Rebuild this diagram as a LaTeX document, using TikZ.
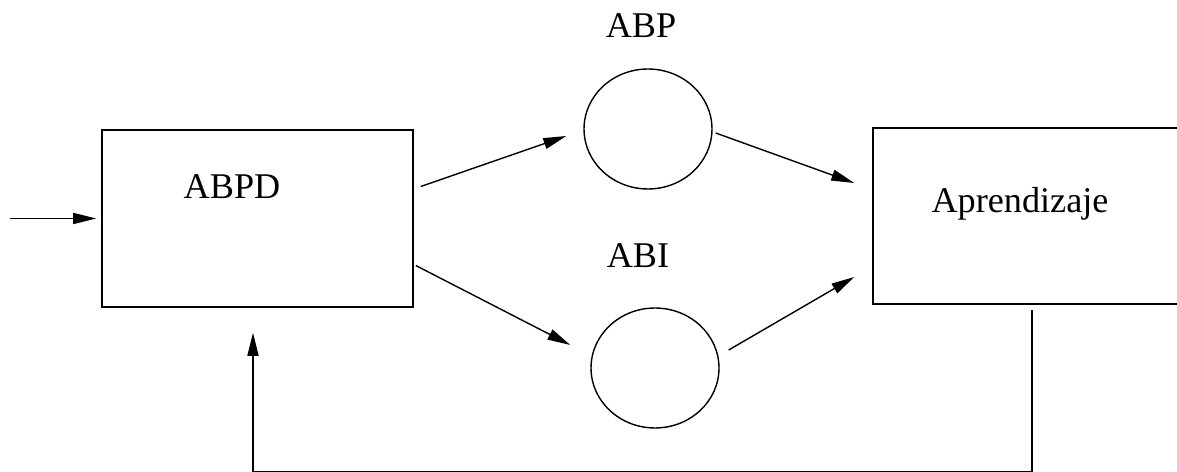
\documentclass[tikz,border=0pt]{standalone}
\usepackage{fontspec}
\setmainfont{Liberation Serif}
\usetikzlibrary{arrows.meta, positioning, calc, shapes.geometric}

\begin{document}
\begin{tikzpicture}[
  x=0.02cm, y=-0.02cm,
  block/.style={rectangle,draw,line width=0.9pt,minimum width=6.22cm,minimum height=3.54cm,inner sep=0pt},
  unit/.style={ellipse,draw,line width=0.8pt,minimum width=2.56cm,minimum height=2.4cm,inner sep=0pt},
  lbl/.style={font=\fontsize{20.6}{24}\selectfont,inner sep=0pt,anchor=base},
  arr/.style={-{Triangle[length=0.46cm,width=0.22cm]},line width=0.8pt}
]
  \useasboundingbox (0,0) rectangle (1177,472);
  \clip (0,0) rectangle (1177,472);
  \fill[white] (0,0) rectangle (1177,472);

  % blocks and units
  \node[block] (abpd) at (257.5,218.5) {};
  \node[block,minimum width=6.36cm,minimum height=3.52cm] (aprend) at (1032,216) {};
  \node[unit] (abp) at (648,129) {};
  \node[unit] (abi) at (655,368) {};

  % texts
  \node[lbl] (abpdtxt) at (232,199) {ABPD};
  \node[lbl] (aprendtxt) at (1020,213) {Aprendizaje};
  \node[lbl] (abptxt) at (641,38) {ABP};
  \node[lbl] (abitxt) at (638,268) {ABI};

  % input
  \coordinate (start) at (10,218.5);
  \draw[arr,shorten >=0.1cm] (start) -- (abpd.west);

  % forward paths
  \draw[arr] ([shift={(7,-32)}]abpd.east) -- ([shift={(-17,7)}]abp.west);
  \draw[arr] ([shift={(2,47)}]abpd.east) -- ([shift={(-20,-23)}]abi.west);
  \draw[arr] ([shift={(3,4)}]abp.east) -- ([shift={(-18,-33)}]aprend.west);
  \draw[arr] ([shift={(9,-18)}]abi.east) -- ([shift={(-18,61)}]aprend.west);

  % feedback
  \draw[arr,shorten <=0.1cm,shorten >=0.5cm] (aprend.south) -- ++(0,167)
    -| ([shift={(-4.5,0)}]abpd.south);
\end{tikzpicture}
\end{document}
